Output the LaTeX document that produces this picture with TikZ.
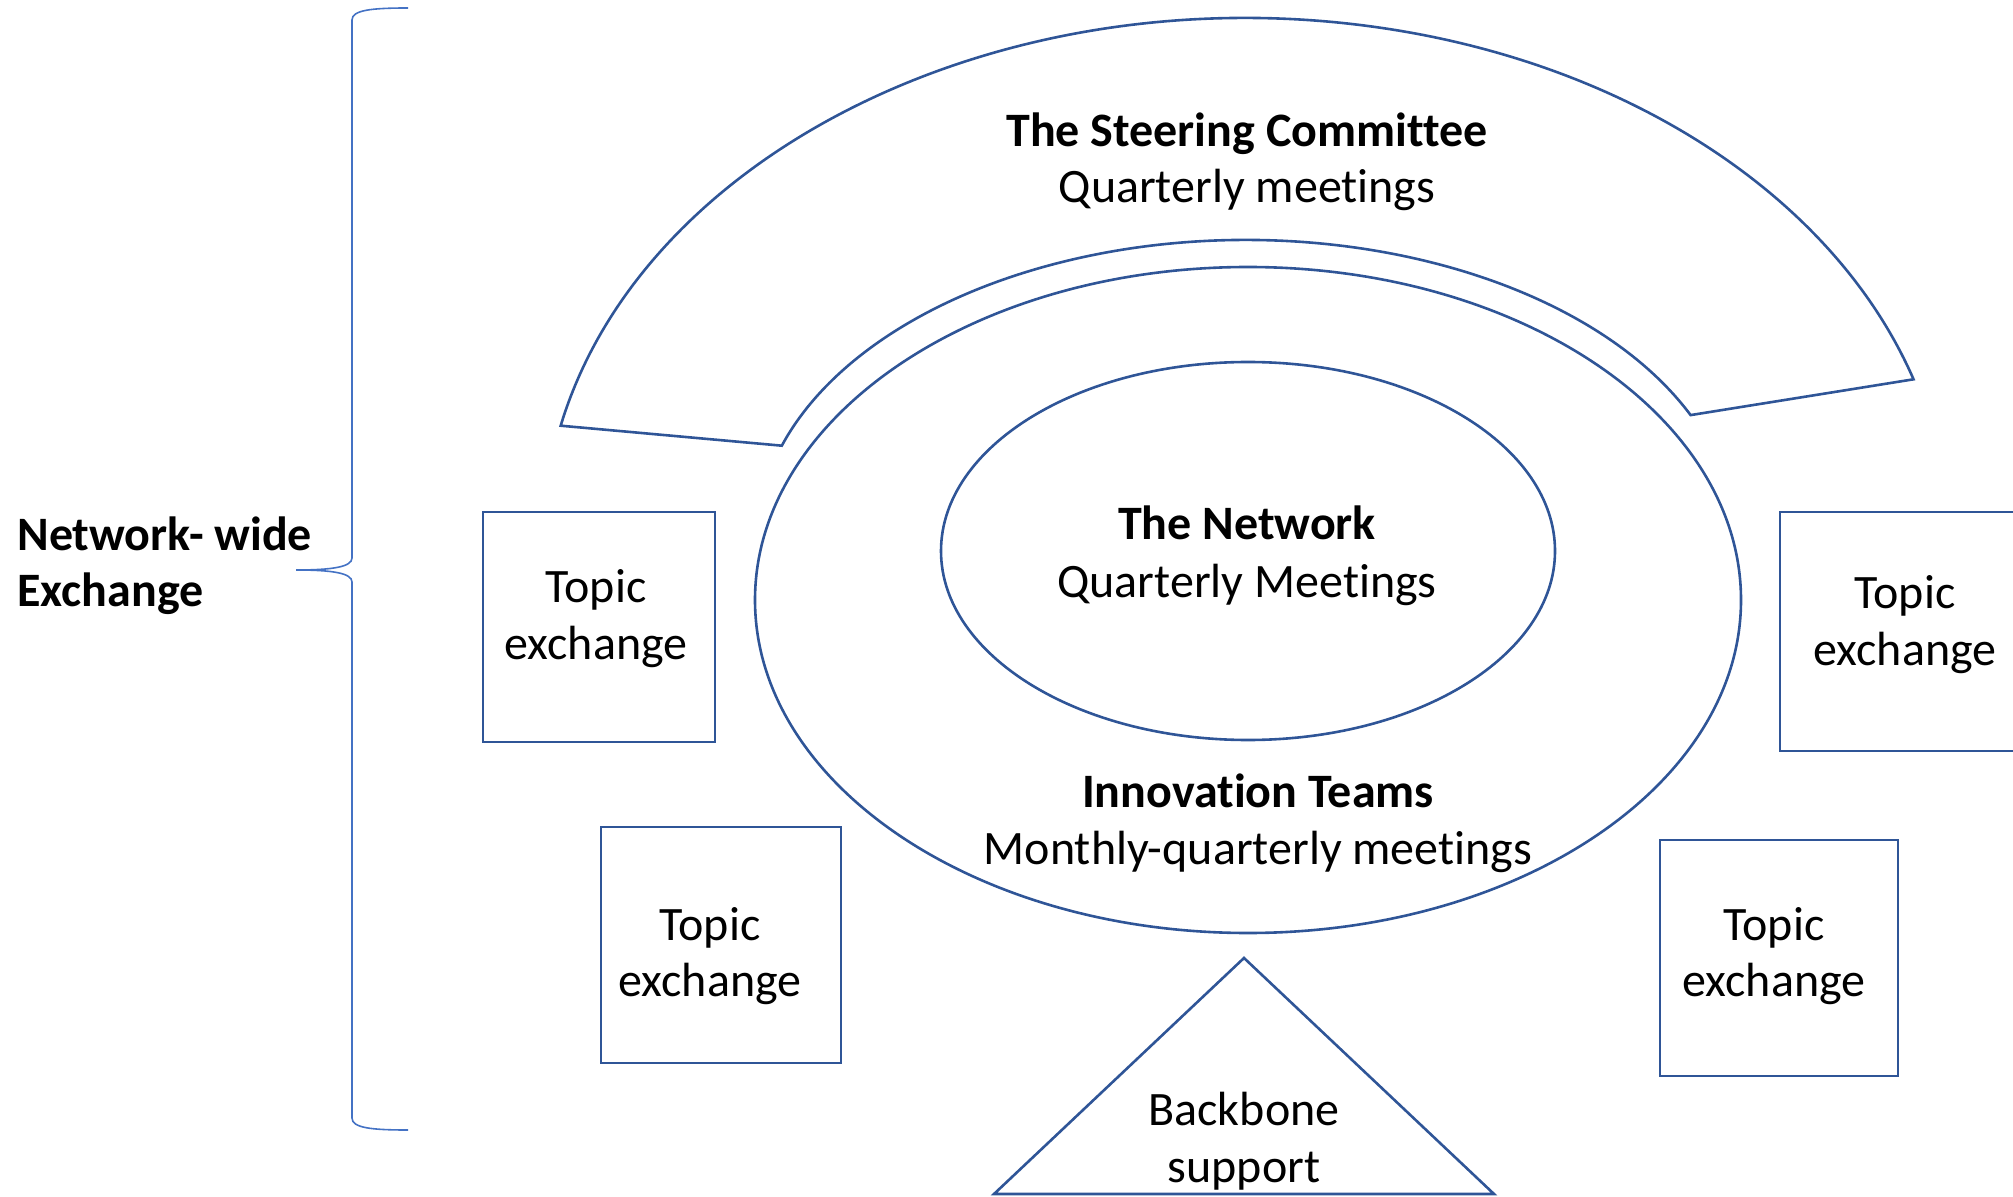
\documentclass[tikz,border=0pt]{standalone}
\usepackage{fontspec}
\setmainfont{Carlito}[Ligatures={CommonOff}]
\definecolor{shapeblue}{HTML}{2F5597}
\definecolor{braceblue}{HTML}{4472C4}
\begin{document}
\begin{tikzpicture}[x=0.5pt,y=0.5pt,
  outl/.style={draw=shapeblue, line width=1.3pt},
  bracestyle/.style={draw=braceblue, line width=0.8pt},
  txt/.style={inner sep=0pt, anchor=base, text=black, font=\fontsize{24}{28.8}\selectfont},
  btxt/.style={txt, font=\fontsize{24}{28.8}\selectfont\bfseries}]
\useasboundingbox (0,0) rectangle (2013,1196);
\clip (0,0) rectangle (2013,1196);

% Steering committee block arc
\draw[outl] (560.7,770.3) arc[start angle=167.35, end angle=17.93, x radius=702, y radius=522]
  -- (1690.6,780.9) arc[start angle=24.6, end angle=161.68, x radius=489, y radius=300] -- cycle;

% Innovation teams and network ellipses
\draw[outl] (1248,596) ellipse[x radius=493, y radius=333];
\draw[outl] (1248,645) ellipse[x radius=307, y radius=189];

% Topic exchange boxes
\draw[outl] (483,454) rectangle (715,684);
\draw[outl] (601,133) rectangle (841,369);
\draw[outl] (1780,445) rectangle (2045,684);
\draw[outl] (1660,120) rectangle (1898,356);

% Backbone triangle
\draw[outl] (1244,238) -- (1494,2) -- (994,2) -- cycle;

% Brace
\coordinate (btop) at (408,1188);
\coordinate (btip) at (296,626);
\coordinate (bbot) at (408,66);
\draw[bracestyle] (btop) .. controls (372,1188) and (352,1186) .. (352,1176)
  -- (352,638) .. controls (352,629) and (332,626) .. (btip)
  .. controls (332,626) and (352,623) .. (352,614)
  -- (352,78) .. controls (352,68) and (372,66) .. (bbot);

% Texts
\node[btxt] (sc1) at (1247,1049) {The Steering Committee};
\node[txt]  (sc2) at (1247,993) {Quarterly meetings};
\node[btxt] (nw1) at (1247,656) {The Network};
\node[txt]  (nw2) at (1247,599) {Quarterly Meetings};
\node[btxt] (it1) at (1258,389) {Innovation Teams};
\node[txt]  (it2) at (1258,332) {Monthly-quarterly meetings};
\node[txt]  (bb1) at (1244,71) {Backbone};
\node[txt]  (bb2) at (1244,14) {support};
\node[txt]  (lt1) at (596,594) {Topic};
\node[txt]  (lt2) at (596,537) {exchange};
\node[txt]  (lb1) at (710,256) {Topic};
\node[txt]  (lb2) at (710,200) {exchange};
\node[txt]  (rt1) at (1905,588) {Topic};
\node[txt]  (rt2) at (1905,531) {exchange};
\node[txt]  (rb1) at (1774,256) {Topic};
\node[txt]  (rb2) at (1774,200) {exchange};
\node[btxt, anchor=base west] (nwe1) at (17,646) {Network- wide};
\node[btxt, anchor=base west] (nwe2) at (17,589) {Exchange};
\end{tikzpicture}
\end{document}
